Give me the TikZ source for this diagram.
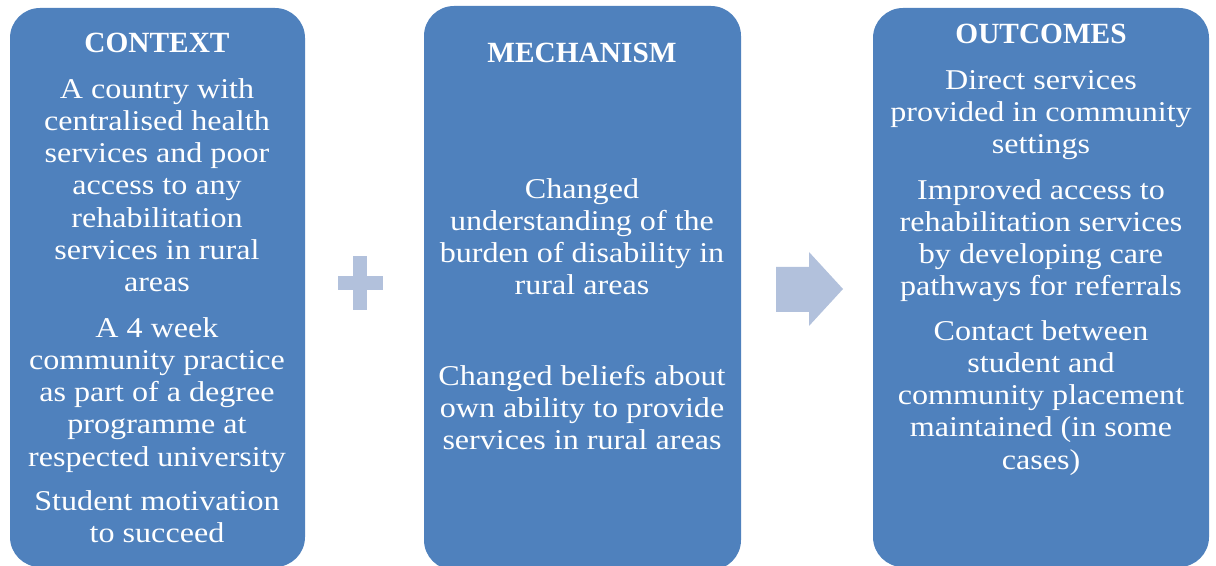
\documentclass[tikz,border=0pt]{standalone}
\usepackage{fontspec}
\setmainfont{Liberation Serif}[FakeStretch=1.12]
\newfontfamily\headfont{Liberation Serif}
\usepackage{xcolor}
\definecolor{panelblue}{HTML}{4F81BD}
\definecolor{signgray}{HTML}{B2C1DC}

\begin{document}
\begin{tikzpicture}[x=0.75pt,y=0.75pt,yscale=-1,xscale=1,
  panel/.style={fill=panelblue, rounded corners=22.5pt},
  head/.style={text=white, font=\headfont\fontsize{22}{26}\selectfont\bfseries, anchor=base},
  body/.style={text=white, font=\fontsize{21.5}{24.2}\selectfont, align=center, anchor=north, inner sep=0pt}]
\useasboundingbox (0,0) rectangle (1216,566);
\clip (0,0) rectangle (1216,566);

%Shape: Rounded Rectangle [context]
\path [panel] (10,8) rectangle (305,567) ;
%Shape: Rounded Rectangle [mechanism]
\path [panel] (424,6) rectangle (741,570) ;
%Shape: Rounded Rectangle [outcomes]
\path [panel] (873,8) rectangle (1209,567) ;

%Shape: Plus
\fill [signgray] (353,256) rectangle (367,310) ;
\fill [signgray] (338,276) rectangle (383,290) ;
%Shape: Right Arrow
\fill [signgray] (776,267) -- (809,267) -- (809,252) -- (843,289) -- (809,326) -- (809,312) -- (776,312) -- cycle ;

% Text Node
\draw (157,53) node [head] (ctxhead) {CONTEXT};
% Text Node
\draw (157,78) node [body] (ctxa) {A country with\\centralised health\\services and poor\\access to any\\rehabilitation\\services in rural\\areas};
% Text Node
\draw (157,317) node [body] (ctxb) {A 4 week\\community practice\\as part of a degree\\programme at\\respected university};
% Text Node
\draw (157,490) node [body] (ctxc) {Student motivation\\to succeed};

% Text Node
\draw (582,63) node [head] (mechhead) {MECHANISM};
% Text Node
\draw (582,178) node [body] (mecha) {Changed\\understanding of the\\burden of disability in\\rural areas};
% Text Node
\draw (582,365) node [body] (mechb) {Changed beliefs about\\own ability to provide\\services in rural areas};

% Text Node
\draw (1041,44) node [head] (outhead) {OUTCOMES};
% Text Node
\draw (1041,70) node [body] (outa) {Direct services\\provided in community\\settings};
% Text Node
\draw (1041,179) node [body] (outb) {Improved access to\\rehabilitation services\\by developing care\\pathways for referrals};
% Text Node
\draw (1041,320) node [body] (outc) {Contact between\\student and\\community placement\\maintained (in some\\cases)};

\end{tikzpicture}
\end{document}
